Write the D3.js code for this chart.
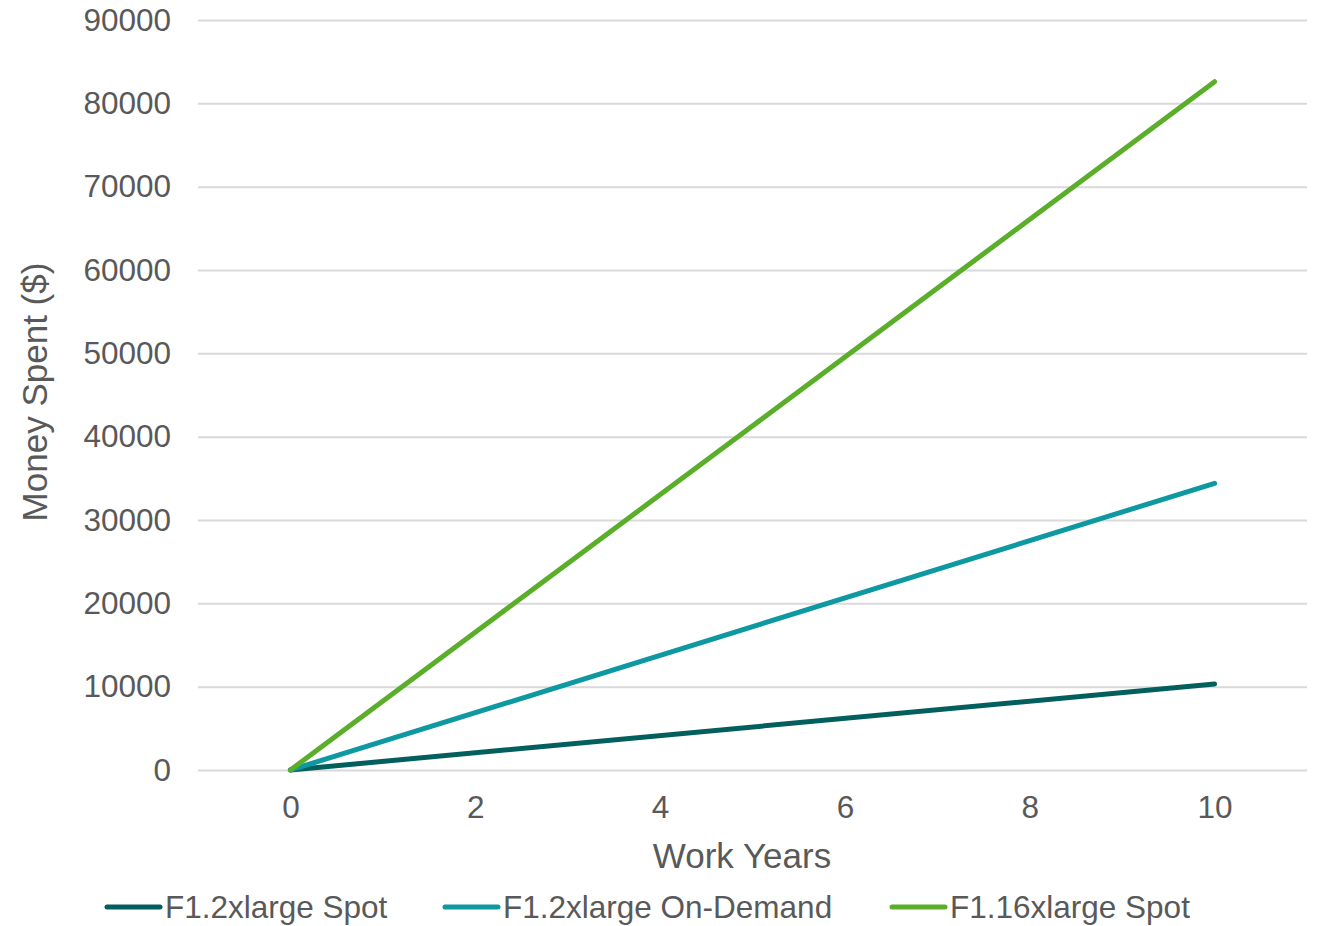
<!DOCTYPE html>
<html>
<head>
<meta charset="utf-8">
<script src="https://cdn.jsdelivr.net/npm/d3@7"></script>
<style>
  html, body { margin: 0; padding: 0; background: #fff; }
  svg { display: block; font-family: "Liberation Sans", Arial, sans-serif; }
</style>
</head>
<body>
<svg id="chart" width="1321" height="926"></svg>
<script>
// Work years on the x axis
const years = [0, 10];
// Cumulative money spent ($) per instance type
const seriesNames = ["F1.2xlarge Spot", "F1.2xlarge On-Demand", "F1.16xlarge Spot"];
const spot2x = [0, 10330];
const onDemand2x = [0, 34400];
const spot16x = [0, 82600];
const seriesColors = ["#035f5e", "#0d98a2", "#5aae2a"];
const xTicks = [0, 2, 4, 6, 8, 10];
const yTicks = [0, 10000, 20000, 30000, 40000, 50000, 60000, 70000, 80000, 90000];

const seriesValues = [spot2x, onDemand2x, spot16x];

const svg = d3.select("#chart");
const plot = { left: 198, right: 1307, top: 20, bottom: 770 };
const textColor = "#595959";
const gridColor = "#d9d9d9";
const tickFont = "31.5px";
const titleFont = "35px";

const x = d3.scaleLinear().domain([-1, 11]).range([plot.left, plot.right]);
const y = d3.scaleLinear().domain([0, 90000]).range([plot.bottom, plot.top]);

// horizontal gridlines + y tick labels
const yAxis = d3.axisLeft(y).tickValues(yTicks).tickFormat(d3.format("d"))
  .tickSize(-(plot.right - plot.left)).tickPadding(27);
const gy = svg.append("g").attr("transform", `translate(${plot.left},0)`).call(yAxis);
gy.select(".domain").remove();
gy.selectAll(".tick line").attr("stroke", gridColor).attr("stroke-width", 2);
gy.selectAll(".tick text").attr("fill", textColor).style("font-size", tickFont)
  .style("font-family", "'Liberation Sans', Arial, sans-serif");

// x tick labels
const xAxis = d3.axisBottom(x).tickValues(xTicks).tickSize(0).tickPadding(26);
const gx = svg.append("g").attr("transform", `translate(0,${plot.bottom})`).call(xAxis);
gx.select(".domain").remove();
gx.selectAll(".tick text").attr("fill", textColor).style("font-size", tickFont)
  .style("font-family", "'Liberation Sans', Arial, sans-serif");

// series lines
const line = d3.line().x((d, i) => x(years[i])).y(d => y(d));
seriesValues.forEach((vals, i) => {
  svg.append("path")
    .datum(vals)
    .attr("d", line)
    .attr("fill", "none")
    .attr("stroke", seriesColors[i])
    .attr("stroke-width", 5)
    .attr("stroke-linecap", "round")
    .attr("stroke-linejoin", "round");
});

// axis titles
svg.append("text")
  .attr("x", 742)
  .attr("y", 868)
  .attr("text-anchor", "middle")
  .attr("fill", textColor)
  .style("font-size", titleFont)
  .text("Work Years");

svg.append("text")
  .attr("transform", `translate(47,392) rotate(-90)`)
  .attr("text-anchor", "middle")
  .attr("fill", textColor)
  .style("font-size", titleFont)
  .text("Money Spent ($)");

// legend
const legendX = [107, 445, 892];
const legend = svg.append("g");
seriesNames.forEach((name, i) => {
  const g = legend.append("g").attr("transform", `translate(${legendX[i]},907)`);
  g.append("line")
    .attr("x1", 0).attr("x2", 53).attr("y1", 0).attr("y2", 0)
    .attr("stroke", seriesColors[i]).attr("stroke-width", 5)
    .attr("stroke-linecap", "round");
  g.append("text")
    .attr("x", 58).attr("y", 11)
    .attr("fill", textColor)
    .style("font-size", tickFont)
    .text(name);
});
</script>
</body>
</html>
